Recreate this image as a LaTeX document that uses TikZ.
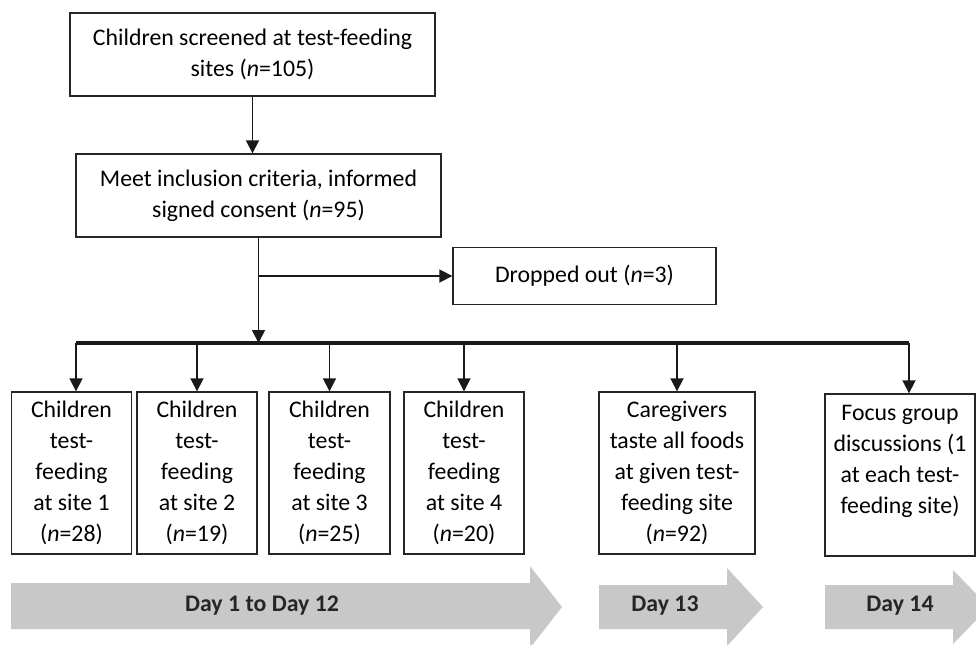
\documentclass[tikz,border=0pt]{standalone}
\usepackage{fontspec}
\setmainfont{Carlito}
\usetikzlibrary{arrows.meta, positioning}
\usepackage{xcolor}
\definecolor{daygray}{RGB}{200,200,200}

\begin{document}
\begin{tikzpicture}[
    x=0.5pt, y=-0.5pt,
    font=\fontsize{11.9}{15.5}\selectfont,
    box/.style={rectangle, draw=black!85, line width=0.7pt, fill=white,
                inner sep=0pt, align=center},
    site/.style={box, minimum width=60pt, minimum height=81pt},
    arr/.style={-{Triangle[length=6.5pt, width=6.5pt]}, line width=0.9pt, color=black!90},
    bar/.style={line width=1.7pt, color=black!90},
    dayarrow/.style={fill=daygray, draw=none},
    daylabel/.style={font=\fontsize{11.9}{14}\selectfont\bfseries, text=black!85}
]
\useasboundingbox (0,0) rectangle (976,644);
\clip (0,0) rectangle (976,644);

\node[box, minimum width=182.5pt, minimum height=41.5pt] (A) at (252.5,54.5)
    {Children screened at test-feeding\\sites (\textit{n}=105)};
\node[box, minimum width=182.5pt, minimum height=41.5pt] (B) at (258.5,195.5)
    {Meet inclusion criteria, informed\\signed consent (\textit{n}=95)};
\node[box, minimum width=131.5pt, minimum height=28.5pt] (D) at (584.5,276)
    {Dropped out (\textit{n}=3)};

\node[site] (S1) at (71.5,473) {Children\\test-\\feeding\\at site 1\\(\textit{n}=28)};
\node[site] (S2) at (197,473) {Children\\test-\\feeding\\at site 2\\(\textit{n}=19)};
\node[site, minimum width=60.5pt] (S3) at (329.5,473) {Children\\test-\\feeding\\at site 3\\(\textit{n}=25)};
\node[site] (S4) at (464,473) {Children\\test-\\feeding\\at site 4\\(\textit{n}=20)};
\node[site, minimum width=78pt] (C) at (677,473)
    {Caregivers\\taste all foods\\at given test-\\feeding site\\(\textit{n}=92)};
\node[site, minimum width=75pt] (F) at (900,475)
    {Focus group\\discussions (1\\at each test-\\feeding site)\\\mbox{}};

% junction on the bar
\coordinate (T) at (258.5,343);
\coordinate (Fin) at ([xshift=4.5pt]F.north);

\draw[arr] (A.south) -- (A.south |- B.north);
\draw[arr] (B.south) -- (T);
\draw[arr] (B.south |- D.west) -- (D.west);
\draw[bar] ([xshift=2.25pt]S1.north |- T) -- (Fin |- T);
\draw[arr] ([xshift=2.25pt]S1.north |- T) -- ([xshift=2.25pt]S1.north);
\draw[arr] (S2.north |- T) -- (S2);
\draw[arr] (S3.north |- T) -- (S3);
\draw[arr] (S4.north |- T) -- (S4);
\draw[arr] (C.north |- T) -- (C);
\draw[arr] (Fin |- T) -- (Fin);

% day arrows
\fill[dayarrow] (11,583) -- (530,583) -- (530,566) -- (562,607) -- (530,648)
    -- (530,629) -- (11,629) -- cycle;
\fill[dayarrow] (599,585) -- (727,585) -- (727,568) -- (763,607) -- (727,646)
    -- (727,629) -- (599,629) -- cycle;
\fill[dayarrow] (825,585) -- (953,585) -- (953,570) -- (989,607) -- (953,644)
    -- (953,629) -- (825,629) -- cycle;
\node[daylabel] (L1) at (262,606) {Day 1 to Day 12};
\node[daylabel] (L2) at (665,606) {Day 13};
\node[daylabel] (L3) at (900,606) {Day 14};
\end{tikzpicture}
\end{document}
